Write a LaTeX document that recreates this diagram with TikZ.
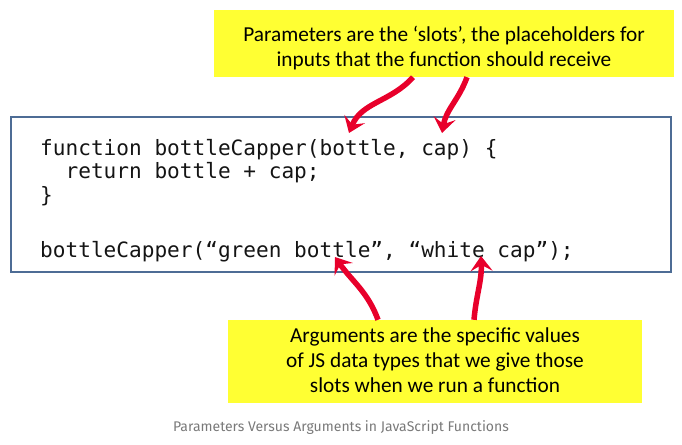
\documentclass[tikz,border=0pt]{standalone}
\usepackage{fontspec}
\setmainfont{Carlito}
\newfontfamily\codefont{DejaVu Sans Mono}
\newfontfamily\capfont{Fira Sans}
\usepackage{xcolor}
\usetikzlibrary{arrows.meta,positioning}
\definecolor{noteyellow}{HTML}{FFFF33}
\definecolor{framecol}{HTML}{4D6C95}
\definecolor{arrred}{HTML}{E8002B}

\begin{document}
\begin{tikzpicture}[x=1pt, y=-1pt,
  note/.style={fill=noteyellow, inner sep=0pt},
  notetxt/.style={align=center, inner sep=0pt,
               font=\fontsize{21.3}{25}\selectfont},
  codebox/.style={draw=framecol, line width=2.6pt, minimum width=660pt,
                  minimum height=155pt, inner sep=0pt},
  codeln/.style={anchor=base west, inner sep=0pt, text=black!92,
                 font=\codefont\fontsize{21.1}{24}\selectfont},
  arr/.style={draw=arrred, line width=5.5pt,
              -{Stealth[length=15pt, width=22pt, inset=6pt]}},
  captxt/.style={font=\capfont\fontsize{14}{16}\selectfont, text=gray!95!black},
]
\useasboundingbox (0,0) rectangle (682,444);
\node[codebox] (code) at (341,194.5) {};
\node[codeln] (l1) at (40,155) {function bottleCapper(bottle, cap) \{};
\node[codeln] (l2) at (40,178.5) {\ \ return bottle + cap;};
\node[codeln] (l3) at (40,202) {\}};
\node[codeln] (l5) at (40,257) {bottleCapper(“green bottle”, “white cap”);};
\node[note, minimum width=460pt, minimum height=67pt] (param) at (444,43.5) {};
\node[notetxt] (paramtxt) at ([yshift=-5pt]param.center)
  {Parameters are the ‘slots’, the placeholders for\\inputs that the function should receive};
\node[note, minimum width=414pt, minimum height=83pt] (argm) at (435,361.5) {};
\node[notetxt] (argmtxt) at ([yshift=1pt]argm.center)
  {Arguments are the specific values\\of JS data types that we give those\\slots when we run a function};
\node[captxt] (title) at (341,428) {Parameters Versus Arguments in JavaScript Functions};
\coordinate (pbottle) at (349,133);
\coordinate (pcap) at (442,133);
\coordinate (abottle) at (335,257);
\coordinate (acap) at (481,256);
\draw[arr] ([xshift=-31pt]param.south) to[out=228, in=68] (pbottle);
\draw[arr] ([xshift=23pt]param.south) to[out=250, in=80] (pcap);
\draw[arr] ([xshift=-57pt]argm.north) to[out=110, in=-55] (abottle);
\draw[arr] ([xshift=39pt]argm.north) to[out=85, in=-88] (acap);
\end{tikzpicture}
\end{document}
